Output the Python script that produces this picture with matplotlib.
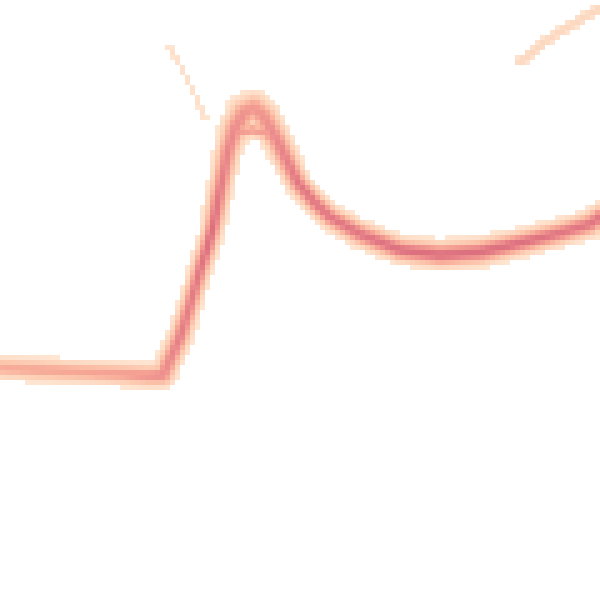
import numpy as np
import matplotlib
matplotlib.use("Agg")
import matplotlib.pyplot as plt
from matplotlib.colors import LinearSegmentedColormap

# main bundle: centre line (pixel coords), density weight and spread
main_x = [0, 40, 80, 120, 150, 163, 172, 180, 190, 200, 208, 213, 218, 222, 228, 235,
          244, 254, 264, 278, 290, 298, 315, 330, 360, 400, 440, 480, 520, 560, 590, 600]
main_y = [368, 370, 372, 374, 376, 375, 355, 337, 305, 270, 245, 227, 200, 180, 150, 128,
          113, 108, 117, 142, 167, 183, 203, 217, 234, 250, 255, 252, 243, 233, 224, 217]
main_w = [0.55, 0.6, 0.6, 0.65, 0.75, 0.8, 0.85, 0.9, 0.9, 0.95, 1.0, 1.0, 0.95, 0.9, 0.85, 0.8,
          0.75, 0.7, 0.75, 0.85, 0.9, 0.95, 0.95, 0.95, 0.95, 1.0, 1.0, 1.0, 1.0, 0.95, 0.95, 0.95]
main_s = [6.0, 6.0, 6.0, 6.0, 6.0, 6.5, 6.0, 6.0, 5.5, 5.5, 5.5, 5.5, 6.0, 6.0, 6.5, 7.5,
          8.5, 8.5, 8.0, 7.0, 6.5, 6.0, 6.0, 6.0, 6.5, 6.5, 7.0, 7.0, 6.5, 6.5, 6.5, 6.5]

# inner branch under the peak
peak_x = [228, 240, 252, 264, 276]
peak_y = [150, 133, 130, 133, 142]
peak_w = [0.6, 0.65, 0.7, 0.65, 0.6]
peak_s = [4.0, 4.0, 4.0, 4.0, 4.0]

# faint stray traces
stray1_x = [170, 180, 190, 198, 205]
stray1_y = [48, 65, 85, 102, 118]
stray2_x = [520, 535, 550, 565, 580, 600]
stray2_y = [62, 50, 38, 29, 20, 8]

colors = ["#fee6d3", "#fdd3b9", "#fbbda5", "#f5a394", "#ec8c8d", "#dc707f"]
cmap = LinearSegmentedColormap.from_list("peach", colors)

cell = 5
centers = np.arange(cell / 2, 600, cell)
gx, gy = np.meshgrid(centers, centers)
grid = np.zeros_like(gx)


def add_trace(xs, ys, ws, ss):
    xs = np.asarray(xs, float)
    ys = np.asarray(ys, float)
    seg = np.hypot(np.diff(xs), np.diff(ys))
    t = np.concatenate([[0], np.cumsum(seg)])
    tt = np.arange(0, t[-1], 1.0)
    px = np.interp(tt, t, xs)
    py = np.interp(tt, t, ys)
    pw = np.interp(tt, t, ws)
    ps = np.interp(tt, t, ss)
    for x, y, w, s in zip(px, py, pw, ps):
        v = w * np.exp(-0.5 * ((gx - x) ** 2 + (gy - y) ** 2) / s ** 2)
        np.maximum(grid, v, out=grid)


add_trace(main_x, main_y, main_w, main_s)
add_trace(peak_x, peak_y, peak_w, peak_s)
add_trace(stray1_x, stray1_y, [0.12] * 5, [2.2] * 5)
add_trace(stray2_x, stray2_y, [0.2] * 6, [3.5] * 6)

masked = np.ma.masked_less(grid, 0.05)

fig = plt.figure(figsize=(6, 6), dpi=100)
ax = fig.add_axes([0, 0, 1, 1])
edges = np.arange(0, 601, cell)
ax.pcolormesh(edges, edges, masked, cmap=cmap, vmin=0.05, vmax=1.0)
ax.set_xlim(0, 600)
ax.set_ylim(600, 0)
ax.axis("off")
fig.savefig("out.png", dpi=100)
